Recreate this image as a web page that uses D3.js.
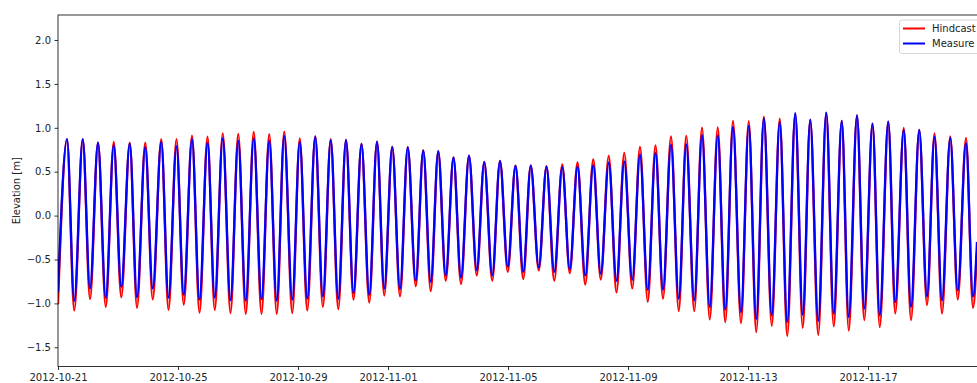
<!DOCTYPE html>
<html>
<head>
<meta charset="utf-8">
<script src="https://cdn.jsdelivr.net/npm/d3@7"></script>
<style>
html,body{margin:0;padding:0;background:#fff;overflow:hidden;}
svg{display:block;font-family:"DejaVu Sans",sans-serif;}
</style>
</head>
<body>
<svg id="chart" width="977" height="383"></svg>
<script>
// Time of each high/low water (hours after 2012-10-21 00:00 UTC)
const hours = [0,7.2,13.0,19.8,25.6,32.0,38.2,44.6,50.6,57.4,63.2,69.8,75.8,82.6,88.4,94.8,100.6,107.2,113.2,119.6,
  125.4,131.8,138.0,144.2,150.2,156.6,162.8,169.0,175.0,181.0,187.4,193.4,199.4,205.8,211.9,218.2,224.2,230.4,236.4,242.8,
  249.0,255.2,261.0,267.4,273.6,279.8,286.2,292.2,298.2,304.2,310.2,316.4,322.4,328.8,335.0,341.0,347.4,353.6,359.8,366.0,
  372.2,378.2,384.6,390.8,397.0,403.4,409.4,415.6,421.8,428.2,434.2,440.6,446.8,453.0,459.4,465.6,471.8,478.0,484.0,490.4,
  496.6,502.6,509.0,515.2,521.4,527.8,533.8,540.0,546.4,552.6,558.6,564.7,571.0,577.4,583.4,589.8,595.8,601.8,608.2,614.6,
  620.6,627.0,632.6,639.2,645.0,651.6,657.4,664.2,669.8,676.6,682.4,689.0,695.2,701.2,707.2,713.8,719.8,726.4,732.0,735.2];

const hindcast = [-1.01,0.87,-1.08,0.87,-0.95,0.83,-1.04,0.84,-0.93,0.83,-1.05,0.83,-0.955,0.87,-1.075,0.87,-1.015,0.91,-1.105,0.90,
  -1.075,0.937,-1.11,0.93,-1.12,0.952,-1.12,0.928,-1.12,0.955,-1.11,0.88,-1.08,0.905,-1.04,0.87,-1.065,0.865,-0.958,0.82,
  -0.99,0.845,-0.91,0.785,-0.92,0.78,-0.805,0.742,-0.86,0.733,-0.74,0.662,-0.78,0.682,-0.68,0.612,-0.74,0.622,-0.64,0.568,
  -0.722,0.572,-0.625,0.562,-0.74,0.582,-0.655,0.605,-0.785,0.64,-0.728,0.68,-0.875,0.715,-0.83,0.783,-0.98,0.80,-0.945,0.903,
  -1.088,0.908,-1.088,1.003,-1.183,1.005,-1.215,1.078,-1.225,1.075,-1.328,1.128,-1.255,1.103,-1.37,1.158,-1.278,1.09,-1.358,1.17,
  -1.26,1.08,-1.31,1.142,-1.19,1.05,-1.27,1.07,-1.115,0.998,-1.19,0.975,-1.02,0.937,-1.115,0.902,-0.955,0.885,-1.05,-0.40];

const measure = [-0.87,0.87,-0.97,0.87,-0.83,0.83,-0.935,0.80,-0.81,0.82,-0.93,0.78,-0.83,0.84,-0.935,0.79,-0.90,0.87,-0.955,0.83,
  -0.935,0.88,-0.963,0.85,-0.968,0.88,-0.95,0.85,-0.968,0.905,-0.958,0.84,-0.945,0.895,-0.92,0.86,-0.947,0.86,-0.88,0.815,
  -0.90,0.84,-0.83,0.78,-0.835,0.778,-0.74,0.74,-0.755,0.73,-0.68,0.66,-0.705,0.68,-0.62,0.61,-0.68,0.62,-0.58,0.567,
  -0.64,0.567,-0.59,0.555,-0.64,0.55,-0.61,0.558,-0.68,0.572,-0.662,0.603,-0.742,0.615,-0.73,0.69,-0.845,0.71,-0.842,0.805,
  -0.945,0.81,-0.965,0.915,-1.04,0.914,-1.07,1.01,-1.10,1.022,-1.175,1.11,-1.135,1.065,-1.21,1.168,-1.128,1.092,-1.20,1.172,
  -1.115,1.078,-1.155,1.142,-1.06,1.045,-1.135,1.07,-0.985,0.975,-1.04,0.975,-0.92,0.90,-0.965,0.885,-0.85,0.825,-0.92,-0.30];

const seriesNames = ["Hindcast", "Measure"];
const seriesColors = ["#ff0000", "#0000ff"];
const xTickLabels = ["2012-10-21","2012-10-25","2012-10-29","2012-11-01","2012-11-05","2012-11-09","2012-11-13","2012-11-17"];
const yTicks = [-1.5,-1.0,-0.5,0.0,0.5,1.0,1.5,2.0];

const start = new Date(Date.UTC(2012, 9, 21));
const toDate = h => new Date(start.getTime() + h * 3600 * 1000);
const parse = d3.utcParse("%Y-%m-%d");

const svg = d3.select("#chart");
const L = 58, T = 15, B = 366.5, R = 990;
const x = d3.scaleUtc().domain([start, toDate((R - L) * 0.8)]).range([L, R]);
const y = d3.scaleLinear().domain([-1.719, 2.285]).range([B, T]);

svg.append("defs").append("clipPath").attr("id", "clip")
  .append("rect").attr("x", L).attr("y", T).attr("width", R - L).attr("height", B - T);

const line = d3.line().x(d => x(d.t)).y(d => y(d.v)).curve(d3.curveMonotoneX);
const seriesData = [hindcast, measure].map(vals => vals.map((v, i) => ({t: toDate(hours[i]), v})));

const g = svg.append("g").attr("clip-path", "url(#clip)");
seriesData.forEach((d, i) => {
  g.append("path").datum(d).attr("d", line)
    .attr("fill", "none").attr("stroke", seriesColors[i]).attr("stroke-width", 2.3)
    .attr("stroke-linejoin", "round");
});

// axes
const xAxis = d3.axisBottom(x).tickValues(xTickLabels.map(parse)).tickFormat(d3.utcFormat("%Y-%m-%d"))
  .tickSize(3.5).tickPadding(3.5).tickSizeOuter(0);
const xg = svg.append("g").attr("transform", `translate(0,${B})`).call(xAxis);
const yAxis = d3.axisLeft(y).tickValues(yTicks).tickFormat(d => d3.format(".1f")(d).replace("-", "\u2212"))
  .tickSize(3.5).tickPadding(3.5).tickSizeOuter(0);
const yg = svg.append("g").attr("transform", `translate(${L},0)`).call(yAxis);

[xg, yg].forEach(a => {
  a.selectAll("path.domain").remove();
  a.selectAll(".tick line").attr("stroke", "#000").attr("stroke-width", 0.8);
  a.selectAll(".tick text").attr("fill", "#222").attr("font-size", "10px").attr("font-family", "DejaVu Sans");
});

// spines
svg.append("rect").attr("x", L).attr("y", T).attr("width", R - L).attr("height", B - T)
  .attr("fill", "none").attr("stroke", "#000").attr("stroke-width", 0.8);

// y label
svg.append("text").attr("transform", `translate(16,${(T + B) / 2}) rotate(-90)`)
  .attr("text-anchor", "middle").attr("dominant-baseline", "central")
  .attr("font-size", "10px").attr("fill", "#222").text("Elevation [m]");

// legend
const lg = svg.append("g");
lg.append("rect").attr("x", 899.5).attr("y", 20).attr("width", 100).attr("height", 33.5).attr("rx", 2.5)
  .attr("fill", "#fff").attr("fill-opacity", 0.8).attr("stroke", "#ccc").attr("stroke-width", 0.8);
seriesNames.forEach((name, i) => {
  const yy = 28.5 + i * 15;
  lg.append("line").attr("x1", 903).attr("x2", 925).attr("y1", yy).attr("y2", yy)
    .attr("stroke", seriesColors[i]).attr("stroke-width", 2);
  lg.append("text").attr("x", 932).attr("y", yy + 3.6).attr("font-size", "10px").attr("fill", "#222").text(name);
});
</script>
</body>
</html>
